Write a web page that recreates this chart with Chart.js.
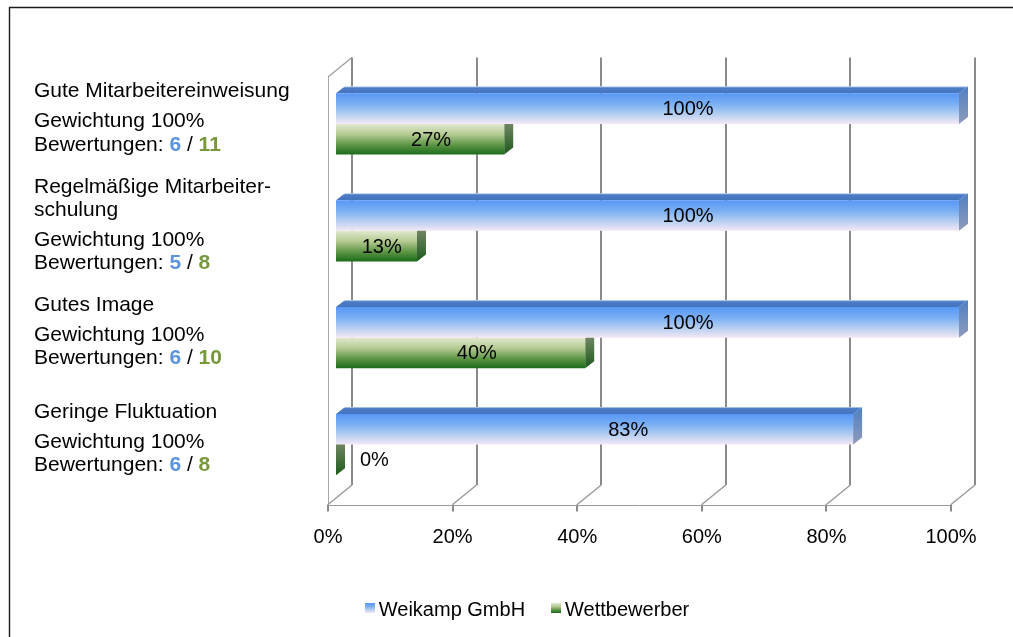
<!DOCTYPE html>
<html>
<head>
<meta charset="utf-8">
<script src="https://cdn.jsdelivr.net/npm/chart.js@4.4.1/dist/chart.umd.min.js"></script>
<style>
  html, body { margin: 0; padding: 0; background: #fff; }
  #wrap { position: relative; width: 1013px; height: 637px; }
</style>
</head>
<body>
<div id="wrap"><canvas id="chart"></canvas></div>
<script>
// ---- data ----
const categoryTitles = [
  ['Gute Mitarbeitereinweisung'],
  ['Regelmäßige Mitarbeiter-', 'schulung'],
  ['Gutes Image'],
  ['Geringe Fluktuation']
];
const weightings = [100, 100, 100, 100];
const ratingsWeikamp = [6, 5, 6, 6];
const ratingsCompetitors = [11, 8, 10, 8];
const weikampValues = [100, 100, 100, 83];
const competitorValues = [27, 13, 40, 0];
const xTicks = [0, 20, 40, 60, 80, 100];
const seriesNames = ['Weikamp GmbH', 'Wettbewerber'];

// ---- look ----
const FONT = '"Liberation Sans", Arial, sans-serif';
const CAT_PCT = 0.572;
const WALL = { x: 24, y: -19.5 };     // full depth of the plot box
const FRONT = 1 / 3;                   // bars stand one third into the box
const BAR_DEPTH = { x: 9, y: -7 };     // depth of each bar
const GRID = '#8a8a8a';
const RATING_COLORS = ['#5b93dc', '#77983b'];
const LEGEND_CENTER_X = 527;

const FRONT_STOPS = [
  [[0, '#5797f5'], [0.35, '#7aaff4'], [0.7, '#b8d0f0'], [1, '#f4e8f6']],
  [[0, '#e1e9cf'], [0.35, '#b3c990'], [0.7, '#5a9443'], [1, '#1b6b1b']]
];
const SIDE_STOPS = [
  [[0, '#4f7fc2'], [1, '#8f9bbb']],
  [[0, '#828f70'], [1, '#1d5a1d']]
];
const TOP_STOPS = [[0, '#cadbf2'], [0.22, '#4c7cc6'], [1, '#4574bf']];

function makeGradient(ctx, y0, y1, stops) {
  const g = ctx.createLinearGradient(0, y0, 0, y1);
  stops.forEach(s => g.addColorStop(s[0], s[1]));
  return g;
}

// vertical extent of one bar's front face, from the category scale
function barBand(chart, dsIndex, dataIndex) {
  const area = chart.chartArea;
  const cat = (area.bottom - area.top) / categoryTitles.length;
  const h = cat * CAT_PCT / 2;
  const c = chart.scales.y.getPixelForValue(dataIndex);
  const y0 = c - h + dsIndex * h;
  return [y0, y0 + h];
}

function frontFill(context) {
  const chart = context.chart;
  const di = context.datasetIndex;
  if (!chart.chartArea || context.dataIndex === undefined || !chart.scales.y) {
    return FRONT_STOPS[di][1][1];
  }
  const [y0, y1] = barBand(chart, di, context.dataIndex);
  return makeGradient(chart.ctx, y0, y1, FRONT_STOPS[di]);
}

function poly(ctx, pts, fill) {
  ctx.beginPath();
  ctx.moveTo(pts[0][0], pts[0][1]);
  for (let i = 1; i < pts.length; i++) ctx.lineTo(pts[i][0], pts[i][1]);
  ctx.closePath();
  ctx.fillStyle = fill;
  ctx.fill();
}

function line(ctx, x0, y0, x1, y1, w, color) {
  ctx.beginPath();
  ctx.moveTo(x0, y0);
  ctx.lineTo(x1, y1);
  ctx.lineWidth = w;
  ctx.strokeStyle = color;
  ctx.stroke();
}

function box(chart) {
  const xs = chart.scales.x, a = chart.chartArea;
  return {
    fx: v => xs.getPixelForValue(v) - WALL.x * FRONT,
    bx: v => xs.getPixelForValue(v) + WALL.x * (1 - FRONT),
    fyT: a.top - WALL.y * FRONT,
    fyB: a.bottom - WALL.y * FRONT,
    byT: a.top + WALL.y * (1 - FRONT),
    byB: a.bottom + WALL.y * (1 - FRONT)
  };
}

function barRect(el) {
  const p = el.getProps(['x', 'y', 'base', 'height'], true);
  return {
    x0: Math.min(p.base, p.x), x1: Math.max(p.base, p.x),
    yt: p.y - p.height / 2, yb: p.y + p.height / 2, cy: p.y
  };
}

const scene3d = {
  id: 'scene3d',
  beforeDraw(chart) {
    const ctx = chart.ctx;
    ctx.save();
    ctx.fillStyle = '#fff';
    ctx.fillRect(0, 0, chart.width, chart.height);
    ctx.restore();
  },
  beforeDatasetsDraw(chart) {
    const ctx = chart.ctx;
    const b = box(chart);
    ctx.save();
    // left wall edges
    line(ctx, Math.round(b.fx(0)) + 0.5, b.fyT, Math.round(b.fx(0)) + 0.5, b.fyB, 1, '#a6a6a6');
    line(ctx, b.fx(0), b.fyT, b.bx(0), b.byT, 1.4, '#a0a0a0');
    // back grid lines and floor diagonals
    xTicks.forEach(v => {
      const xb = Math.round(b.bx(v));
      line(ctx, xb, b.byT, xb, b.byB, 2, GRID);
      line(ctx, b.fx(v), b.fyB, b.bx(v), b.byB, 1.4, '#999');
      const xf = Math.round(b.fx(v));
      line(ctx, xf, b.fyB, xf, b.fyB + 7, 2, GRID);
    });
    // front floor edge
    const yf = Math.round(b.fyB) + 0.5;
    line(ctx, b.fx(0), yf, b.fx(xTicks[xTicks.length - 1]), yf, 1, '#999');

    // bar side and top faces (fronts are drawn by the bar controller)
    for (let di = chart.data.datasets.length - 1; di >= 0; di--) {
      const meta = chart.getDatasetMeta(di);
      meta.data.forEach(el => {
        const r = barRect(el);
        const dx = BAR_DEPTH.x, dy = BAR_DEPTH.y;
        poly(ctx, [[r.x1, r.yt], [r.x1 + dx, r.yt + dy], [r.x1 + dx, r.yb + dy], [r.x1, r.yb]],
          makeGradient(ctx, r.yt + dy, r.yb, SIDE_STOPS[di]));
        if (di === 0) {
          poly(ctx, [[r.x0, r.yt], [r.x0 + dx, r.yt + dy], [r.x1 + dx, r.yt + dy], [r.x1, r.yt]],
            makeGradient(ctx, r.yt + dy, r.yt, TOP_STOPS));
        }
      });
    }
    ctx.restore();
  },
  afterDatasetsDraw(chart) {
    const ctx = chart.ctx;
    ctx.save();
    ctx.font = '20px ' + FONT;
    ctx.fillStyle = '#000';
    ctx.textBaseline = 'middle';
    chart.data.datasets.forEach((ds, di) => {
      chart.getDatasetMeta(di).data.forEach((el, i) => {
        const v = ds.data[i];
        const r = barRect(el);
        const txt = v + '%';
        if (v > 0) {
          ctx.textAlign = 'center';
          ctx.fillText(txt, r.x0 + 0.565 * (r.x1 - r.x0), r.cy + 1);
        } else {
          ctx.textAlign = 'left';
          ctx.fillText(txt, r.x1 + 24, r.cy + 1);
        }
      });
    });
    ctx.restore();
  },
  afterDraw(chart) {
    const ctx = chart.ctx;
    const b = box(chart);
    const ys = chart.scales.y;
    ctx.save();

    // x axis tick labels on the front edge
    ctx.font = '20px ' + FONT;
    ctx.fillStyle = '#000';
    ctx.textAlign = 'center';
    ctx.textBaseline = 'middle';
    xTicks.forEach(v => ctx.fillText(v + '%', b.fx(v), b.fyB + 33));

    // category descriptions
    ctx.textAlign = 'left';
    ctx.textBaseline = 'alphabetic';
    const X0 = 34, LINE = 23, GAP = 30, LAST = 23.5;
    categoryTitles.forEach((title, i) => {
      const span = LINE * (title.length - 1) + GAP + LAST;
      let y = ys.getPixelForValue(i) - span / 2;
      ctx.font = '21px ' + FONT;
      ctx.fillStyle = '#000';
      title.forEach((t, k) => {
        ctx.fillText(t, X0, y);
        if (k < title.length - 1) y += LINE;
      });
      y += GAP;
      ctx.fillText('Gewichtung ' + weightings[i] + '%', X0, y);
      y += LAST;
      const parts = [
        ['Bewertungen: ', '#000', ''],
        [String(ratingsWeikamp[i]), RATING_COLORS[0], 'bold '],
        [' / ', '#000', ''],
        [String(ratingsCompetitors[i]), RATING_COLORS[1], 'bold ']
      ];
      let x = X0;
      parts.forEach(p => {
        ctx.font = p[2] + '21px ' + FONT;
        ctx.fillStyle = p[1];
        ctx.fillText(p[0], x, y);
        x += ctx.measureText(p[0]).width;
      });
    });

    // legend
    ctx.font = '20px ' + FONT;
    ctx.textBaseline = 'middle';
    const SQ = 10, SQGAP = 4, SPACING = 26, LY = 603;
    const widths = seriesNames.map(n => SQ + SQGAP + ctx.measureText(n).width);
    let lx = LEGEND_CENTER_X - (widths[0] + SPACING + widths[1]) / 2;
    seriesNames.forEach((n, i) => {
      ctx.fillStyle = makeGradient(ctx, LY, LY + SQ, FRONT_STOPS[i]);
      ctx.fillRect(Math.round(lx), LY, SQ, SQ);
      ctx.fillStyle = '#000';
      ctx.fillText(n, lx + SQ + SQGAP, LY + 7);
      lx += widths[i] + SPACING;
    });

    // outer frame
    ctx.beginPath();
    ctx.moveTo(9.5, chart.height);
    ctx.lineTo(9.5, 7.5);
    ctx.lineTo(chart.width, 7.5);
    ctx.lineWidth = 1.4;
    ctx.strokeStyle = '#1a1a1a';
    ctx.stroke();
    ctx.restore();
  }
};

new Chart(document.getElementById('chart'), {
  type: 'bar',
  data: {
    labels: categoryTitles.map(t => t.join(' ')),
    datasets: [
      { label: seriesNames[0], data: weikampValues, backgroundColor: frontFill },
      { label: seriesNames[1], data: competitorValues, backgroundColor: frontFill }
    ]
  },
  options: {
    indexAxis: 'y',
    responsive: true,
    maintainAspectRatio: false,
    animation: false,
    devicePixelRatio: 1,
    datasets: { bar: { categoryPercentage: CAT_PCT, barPercentage: 1, borderWidth: 0 } },
    layout: { padding: { left: 336, right: 54, top: 70.5, bottom: 139 } },
    plugins: { legend: { display: false }, tooltip: { enabled: false } },
    scales: {
      x: { type: 'linear', min: 0, max: 100, display: false },
      y: { type: 'category', display: false }
    }
  },
  plugins: [scene3d]
});
</script>
</body>
</html>
